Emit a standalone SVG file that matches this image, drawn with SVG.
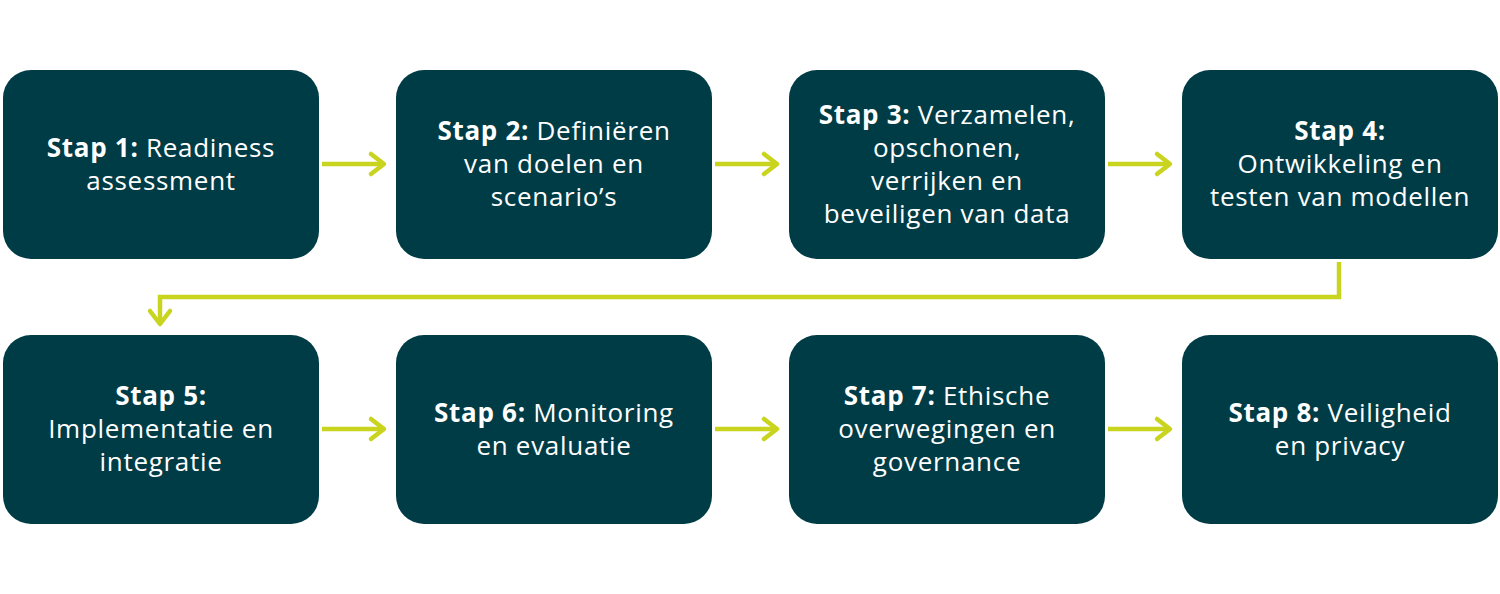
<svg xmlns="http://www.w3.org/2000/svg" width="1500" height="594" viewBox="0 0 1500 594">
<style>
.box{fill:#003c46}
.t{font-family:"Open Sans","Noto Sans",sans-serif;font-size:26px;letter-spacing:0.7px;fill:#ffffff;text-anchor:middle}
.b{font-weight:bold}
.c{fill:none;stroke:#c8d41e;stroke-width:4.5}
.h{fill:none;stroke:#c8d41e;stroke-width:4.5;stroke-linecap:round;stroke-linejoin:round}
</style>
<rect width="1500" height="594" fill="#ffffff"/>
<g id="connectors">
<line class="c" x1="322" y1="164" x2="384" y2="164"/><polyline class="h" points="371,154 384,164 371,174"/>
<line class="c" x1="715" y1="164" x2="777" y2="164"/><polyline class="h" points="764,154 777,164 764,174"/>
<line class="c" x1="1108" y1="164" x2="1170" y2="164"/><polyline class="h" points="1157,154 1170,164 1157,174"/>
<polyline class="c" points="1339,262 1339,297 160,297 160,324"/><polyline class="h" points="150,311 160,324 170,311"/>
<line class="c" x1="322" y1="429" x2="384" y2="429"/><polyline class="h" points="371,419 384,429 371,439"/>
<line class="c" x1="715" y1="429" x2="777" y2="429"/><polyline class="h" points="764,419 777,429 764,439"/>
<line class="c" x1="1108" y1="429" x2="1170" y2="429"/><polyline class="h" points="1157,419 1170,429 1157,439"/>
</g>
<g id="step1"><rect class="box" x="3" y="70" width="316" height="189" rx="28"/>
<text class="t" x="161" y="157"><tspan class="b">Stap 1:</tspan> Readiness</text><text class="t" x="161" y="190">assessment</text></g>
<g id="step2"><rect class="box" x="396" y="70" width="316" height="189" rx="28"/>
<text class="t" x="554" y="140"><tspan class="b">Stap 2:</tspan> Definiëren</text><text class="t" x="554" y="173">van doelen en</text><text class="t" x="554" y="206">scenario’s</text></g>
<g id="step3"><rect class="box" x="789" y="70" width="316" height="189" rx="28"/>
<text class="t" x="947" y="124"><tspan class="b">Stap 3:</tspan> Verzamelen,</text><text class="t" x="947" y="157">opschonen,</text><text class="t" x="947" y="190">verrijken en</text><text class="t" x="947" y="223">beveiligen van data</text></g>
<g id="step4"><rect class="box" x="1182" y="70" width="316" height="189" rx="28"/>
<text class="t b" x="1340" y="140">Stap 4:</text><text class="t" x="1340" y="173">Ontwikkeling en</text><text class="t" x="1340" y="206">testen van modellen</text></g>
<g id="step5"><rect class="box" x="3" y="335" width="316" height="189" rx="28"/>
<text class="t b" x="161" y="405">Stap 5:</text><text class="t" x="161" y="438">Implementatie en</text><text class="t" x="161" y="471">integratie</text></g>
<g id="step6"><rect class="box" x="396" y="335" width="316" height="189" rx="28"/>
<text class="t" x="554" y="422"><tspan class="b">Stap 6:</tspan> Monitoring</text><text class="t" x="554" y="455">en evaluatie</text></g>
<g id="step7"><rect class="box" x="789" y="335" width="316" height="189" rx="28"/>
<text class="t" x="947" y="405"><tspan class="b">Stap 7:</tspan> Ethische</text><text class="t" x="947" y="438">overwegingen en</text><text class="t" x="947" y="471">governance</text></g>
<g id="step8"><rect class="box" x="1182" y="335" width="316" height="189" rx="28"/>
<text class="t" x="1340" y="422"><tspan class="b">Stap 8:</tspan> Veiligheid</text><text class="t" x="1340" y="455">en privacy</text></g>
</svg>
